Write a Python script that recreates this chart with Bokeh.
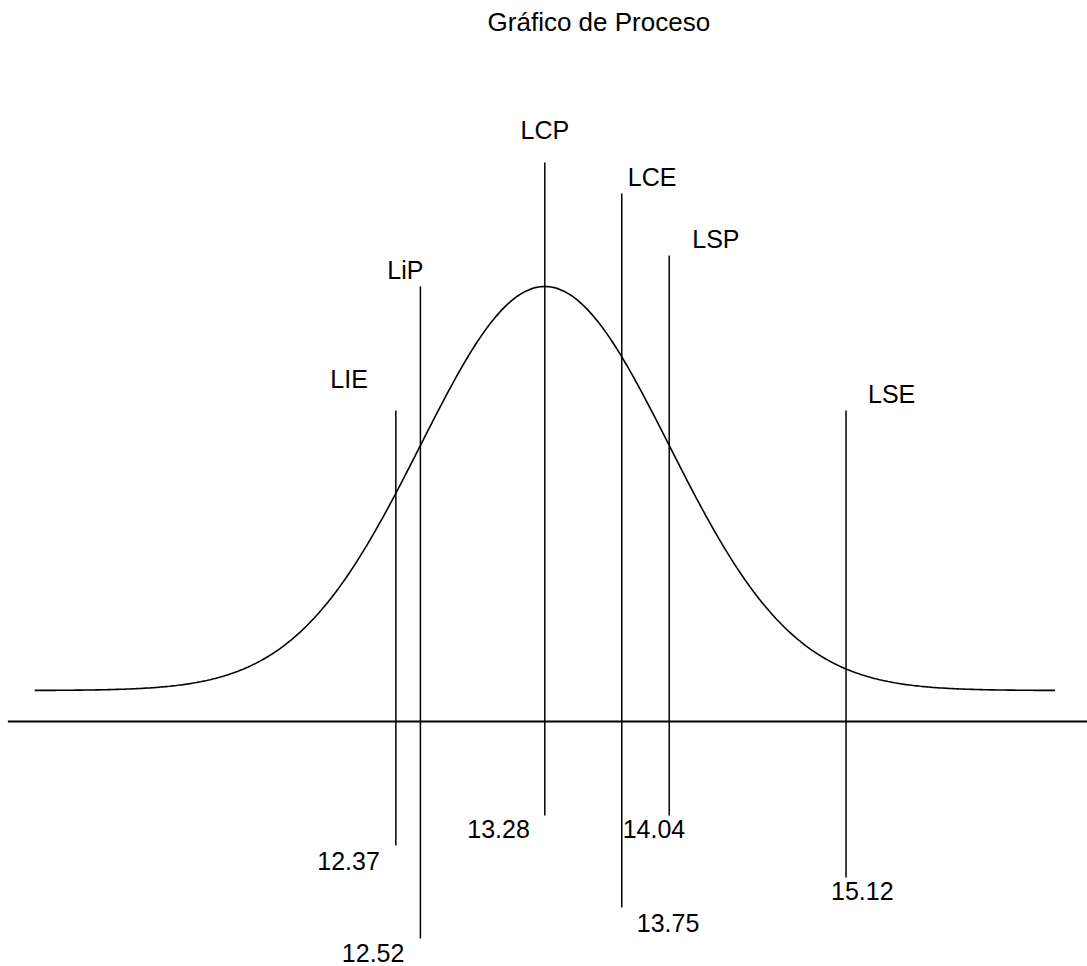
import numpy as np
from bokeh.plotting import figure
from bokeh.models import Range1d, Label, ColumnDataSource
from bokeh.core.properties import value
from bokeh.embed import file_html
from bokeh.resources import INLINE

# Process and specification limits
limit_names = ["LIE", "LiP", "LCP", "LCE", "LSP", "LSE"]
limit_values = [12.37, 12.52, 13.28, 13.75, 14.04, 15.12]
limit_labels = ["12.37", "12.52", "13.28", "13.75", "14.04", "15.12"]

TITLE = "Gráfico de Proceso"

# Layout of the stems and their labels (vertical units are screen pixels, 0 = baseline)
stem_top = [311, 435, 559, 528, 466, 311]
stem_bottom = [-124, -217, -94, -186, -94, -156]
name_gap = [32, 17, 33, 17, 17, 17]
name_align = ["right", "right", "center", "left", "left", "left"]
name_dx = [-28, 3, 0, 6, 23, 22]
value_gap = [15, 14, 13, 15, 13, 13]
value_align = ["right", "right", "right", "left", "right", "left"]
value_dx = [-16, -16, -15, 15, 16, -15]

FONT = value("Liberation Sans")
X0, X1 = 9.955, 16.595

p = figure(width=1087, height=966, x_range=Range1d(X0, X1), y_range=Range1d(-245, 721),
           output_backend="svg", toolbar_location=None, min_border=0,
           x_axis_type=None, y_axis_type=None)
p.grid.visible = False
p.outline_line_color = None
p.background_fill_color = "white"
p.border_fill_color = "white"

# Horizontal reference axis
p.segment(x0=[10.0], y0=[0], x1=[X1], y1=[0], line_color="black", line_width=2)

# Process distribution: centred on LCP, inflection points at LiP and LSP
mean = limit_values[2]
sigma = (limit_values[4] - limit_values[1]) / 2
curve_base, curve_peak = 31, 435
xs = np.linspace(mean - 4.1 * sigma, mean + 4.1 * sigma, 600)
ys = curve_base + (curve_peak - curve_base) * np.exp(-0.5 * ((xs - mean) / sigma) ** 2)
p.line(xs, ys, line_color="black", line_width=1.6)

# Limit stems
p.segment(x0=limit_values, y0=stem_bottom, x1=limit_values, y1=stem_top,
          line_color="black", line_width=1.5)

# Names above the stems, values below
for align in ("left", "center", "right"):
    idx = [i for i, a in enumerate(name_align) if a == align]
    if idx:
        src = ColumnDataSource(dict(
            x=[limit_values[i] for i in idx],
            y=[stem_top[i] + name_gap[i] for i in idx],
            t=[limit_names[i] for i in idx],
            dx=[name_dx[i] for i in idx]))
        p.text(x="x", y="y", text="t", x_offset="dx", source=src, text_align=align,
               text_baseline="alphabetic", text_font=FONT, text_font_size="25px",
               text_color="black")
    idx = [i for i, a in enumerate(value_align) if a == align]
    if idx:
        src = ColumnDataSource(dict(
            x=[limit_values[i] for i in idx],
            y=[stem_bottom[i] - value_gap[i] for i in idx],
            t=[limit_labels[i] for i in idx],
            dx=[value_dx[i] for i in idx]))
        p.text(x="x", y="y", text="t", x_offset="dx", source=src, text_align=align,
               text_baseline="alphabetic", text_font=FONT, text_font_size="25px",
               text_color="black")

p.add_layout(Label(x=13.61, y=700, text=TITLE, text_align="center",
                   text_baseline="alphabetic", text_font="Liberation Sans",
                   text_font_size="26px", text_color="black"))

open("out.html", "w").write(file_html(p, INLINE))
